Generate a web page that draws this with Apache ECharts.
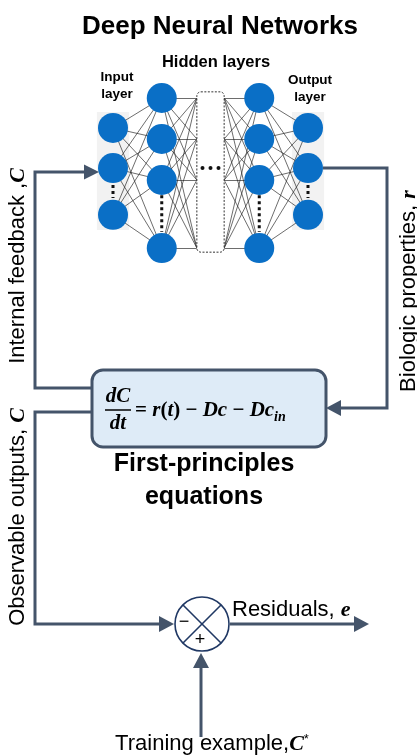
<!DOCTYPE html>
<html>
<head>
<meta charset="utf-8">
<script src="https://cdn.jsdelivr.net/npm/echarts@6/dist/echarts.min.js"></script>
<style>
html,body{margin:0;padding:0;background:#fff;}
#main{width:417px;height:756px;}
</style>
</head>
<body>
<div id="main"></div>
<script>
// ---- Data (diagram structure) ----
const layerNames = ['Input layer', 'Hidden layer 1', 'Hidden layers …', 'Hidden layer n', 'Output layer'];
const inputRows = [0.73, 1.71, 2.85];
const hiddenFirstRows = [0, 1, 2, 3.66];
const hiddenLastRows = [0, 1, 2, 3.66];
const outputRows = [0.73, 1.71, 2.85];
const middleLayer = 2;
const labels = {
  title: 'Deep Neural Networks',
  hidden: 'Hidden layers',
  input: 'Input\nlayer',
  output: 'Output\nlayer',
  feedback: 'Internal feedback ,',
  observable: 'Observable outputs, ',
  biologic: 'Biologic properties, ',
  residuals: 'Residuals, ',
  training: 'Training example,',
  principles: 'First-principles\nequations'
};

// ---- build series data ----
const layersRows = [inputRows, hiddenFirstRows, null, hiddenLastRows, outputRows];
const neurons = [];
layersRows.forEach((rows, li) => { if (rows) rows.forEach(r => neurons.push([li, r])); });

const boxHalf = 0.28;
const boxTop = -0.15, boxBottom = 3.76;
const links = [];
function connect(aLayer, aRows, bLayer, bRows, aX, bX) {
  aRows.forEach(ra => bRows.forEach(rb => {
    links.push({ coords: [[aX !== undefined ? aX : aLayer, ra], [bX !== undefined ? bX : bLayer, rb]] });
  }));
}
connect(0, inputRows, 1, hiddenFirstRows);
connect(1, hiddenFirstRows, middleLayer, hiddenFirstRows, undefined, middleLayer - boxHalf);
connect(middleLayer, hiddenLastRows, 3, hiddenLastRows, middleLayer + boxHalf, undefined);
connect(3, hiddenLastRows, 4, outputRows);

// background panels for input/output layers
const panels = [0, 4].map(li => {
  const rows = layersRows[li];
  return [li - 0.33, Math.min(...rows) - 0.39, li + 0.33, Math.max(...rows) + 0.37];
});
// dotted "more neurons" separators
const dotsSep = [
  [0, 2.12, 2.44], [4, 2.12, 2.44],
  [1, 2.37, 3.27], [3, 2.37, 3.27]
];

const chart = echarts.init(document.getElementById('main'), null, { renderer: 'canvas' });

const LINE = '#44546A';
const SANS = '"Liberation Sans", Arial, sans-serif';
const SERIF = '"Liberation Serif", "Times New Roman", serif';
const mathStyle = { fontFamily: SERIF, fontStyle: 'italic', fontWeight: 'bold', fontSize: 22, fill: '#000' };
const textStyle = { fontFamily: SANS, fontSize: 22, fill: '#000' };

function arrowHead(tx, ty, dir, len, half) {
  let pts;
  if (dir === 'r') pts = [[tx, ty], [tx - len, ty - half], [tx - len, ty + half]];
  else if (dir === 'l') pts = [[tx, ty], [tx + len, ty - half], [tx + len, ty + half]];
  else pts = [[tx, ty], [tx - half, ty + len], [tx + half, ty + len]];
  return { type: 'polygon', shape: { points: pts }, style: { fill: LINE }, z: 20 };
}
function poly(points) {
  return { type: 'polyline', shape: { points: points }, style: { stroke: LINE, lineWidth: 3, fill: null, lineJoin: 'miter' }, z: 20 };
}

const graphics = [
  { type: 'text', x: 220, y: 27, style: { text: labels.title, font: 'bold 26px ' + SANS, fill: '#000', align: 'center', verticalAlign: 'middle' }, z: 30 },
  { type: 'text', x: 216, y: 62, style: { text: labels.hidden, font: 'bold 16.5px ' + SANS, fill: '#000', align: 'center', verticalAlign: 'middle' }, z: 30 },
  { type: 'text', x: 117, y: 86, style: { text: labels.input, font: 'bold 13.5px ' + SANS, lineHeight: 17, fill: '#000', align: 'center', verticalAlign: 'middle' }, z: 30 },
  { type: 'text', x: 310, y: 89, style: { text: labels.output, font: 'bold 13.5px ' + SANS, lineHeight: 17, fill: '#000', align: 'center', verticalAlign: 'middle' }, z: 30 },

  poly([[92, 388], [35, 388], [35, 172], [85, 172]]),
  arrowHead(99, 172, 'r', 15, 7.5),
  poly([[92, 412], [35, 412], [35, 624], [160, 624]]),
  arrowHead(174, 624, 'r', 15, 8),
  poly([[323, 168], [387, 168], [387, 408], [340, 408]]),
  arrowHead(326, 408, 'l', 15, 8),
  poly([[230, 624], [355, 624]]),
  arrowHead(369, 624, 'r', 15, 8),
  { type: 'polyline', shape: { points: [[201, 737], [201, 667]] }, style: { stroke: LINE, lineWidth: 3, fill: null }, z: 20 },
  arrowHead(201, 653, 'u', 15, 8),

  { type: 'rect', shape: { x: 92, y: 370, width: 234, height: 77, r: 11 }, style: { fill: '#DEEBF7', stroke: LINE, lineWidth: 3 }, z: 21 },
  { type: 'text', x: 118, y: 397, style: { text: 'dC', font: 'italic bold 21px ' + SERIF, fill: '#000', align: 'center', verticalAlign: 'middle' }, z: 22 },
  { type: 'line', shape: { x1: 105, y1: 410, x2: 131, y2: 410 }, style: { stroke: '#000', lineWidth: 1.5 }, z: 22 },
  { type: 'text', x: 118, y: 424, style: { text: 'dt', font: 'italic bold 21px ' + SERIF, fill: '#000', align: 'center', verticalAlign: 'middle' }, z: 22 },
  { type: 'text', x: 135, y: 411, style: {
      text: '{o|= }{i|r}{o|(}{i|t}{o|) − }{i|Dc}{o| − }{i|Dc}{s|in}',
      align: 'left', verticalAlign: 'middle',
      rich: {
        o: { fontFamily: SERIF, fontWeight: 'bold', fontSize: 21, lineHeight: 26, fill: '#000' },
        i: { fontFamily: SERIF, fontWeight: 'bold', fontStyle: 'italic', fontSize: 21, lineHeight: 26, fill: '#000' },
        s: { fontFamily: SERIF, fontWeight: 'bold', fontStyle: 'italic', fontSize: 14, lineHeight: 14, verticalAlign: 'bottom', fill: '#000' }
      } }, z: 22 },
  { type: 'text', x: 204, y: 481, style: { text: labels.principles, font: 'bold 25px ' + SANS, lineHeight: 33, fill: '#000', align: 'center', verticalAlign: 'middle' }, z: 30 },

  { type: 'text', x: 18, y: 266, rotation: Math.PI / 2, style: {
      text: '{t|' + labels.feedback + '}{m|C}', align: 'center', verticalAlign: 'middle',
      rich: { t: textStyle, m: mathStyle } }, z: 30 },
  { type: 'text', x: 18, y: 517, rotation: Math.PI / 2, style: {
      text: '{t|' + labels.observable + '}{m|C}', align: 'center', verticalAlign: 'middle',
      rich: { t: textStyle, m: mathStyle } }, z: 30 },
  { type: 'text', x: 409, y: 291, rotation: Math.PI / 2, style: {
      text: '{t|' + labels.biologic + '}{m|r}', align: 'center', verticalAlign: 'middle',
      rich: { t: textStyle, m: mathStyle } }, z: 30 },

  { type: 'circle', shape: { cx: 202, cy: 624, r: 27 }, style: { fill: '#fff', stroke: '#203864', lineWidth: 1.6 }, z: 22 },
  { type: 'line', shape: { x1: 183, y1: 605, x2: 221, y2: 643 }, style: { stroke: '#203864', lineWidth: 1.6 }, z: 23 },
  { type: 'line', shape: { x1: 221, y1: 605, x2: 183, y2: 643 }, style: { stroke: '#203864', lineWidth: 1.6 }, z: 23 },
  { type: 'text', x: 184, y: 622, style: { text: '−', font: '18px ' + SANS, fill: '#000', align: 'center', verticalAlign: 'middle' }, z: 24 },
  { type: 'text', x: 200, y: 640, style: { text: '+', font: '18px ' + SANS, fill: '#000', align: 'center', verticalAlign: 'middle' }, z: 24 },

  { type: 'text', x: 232, y: 610, style: {
      text: '{t|' + labels.residuals + '}{m|e}', align: 'left', verticalAlign: 'middle',
      rich: { t: textStyle, m: mathStyle } }, z: 30 },
  { type: 'text', x: 212, y: 744, style: {
      text: '{t|' + labels.training + '}{m|C}{sup|*}', align: 'center', verticalAlign: 'middle',
      rich: { t: textStyle, m: mathStyle, sup: { fontFamily: SANS, fontSize: 13, verticalAlign: 'top', fill: '#000' } } }, z: 30 }
];

const option = {
  animation: false,
  backgroundColor: '#fff',
  grid: { left: 88.625, width: 243.75, top: 57, height: 246 },
  xAxis: { type: 'value', min: -0.5, max: 4.5, show: false },
  yAxis: { type: 'value', min: -1, max: 5, inverse: true, show: false },
  series: [
    {
      type: 'custom', z: 1, silent: true,
      data: panels,
      renderItem: function (params, api) {
        const p1 = api.coord([api.value(0), api.value(1)]);
        const p2 = api.coord([api.value(2), api.value(3)]);
        return { type: 'rect', shape: { x: p1[0], y: p1[1], width: p2[0] - p1[0], height: p2[1] - p1[1] }, style: { fill: '#F2F2F2' } };
      }
    },
    {
      type: 'lines', coordinateSystem: 'cartesian2d', z: 2, silent: true,
      data: links,
      lineStyle: { color: '#222', width: 0.7, opacity: 0.95 }
    },
    {
      type: 'custom', z: 3, silent: true,
      data: [[middleLayer - boxHalf, boxTop, middleLayer + boxHalf, boxBottom]],
      renderItem: function (params, api) {
        const p1 = api.coord([api.value(0), api.value(1)]);
        const p2 = api.coord([api.value(2), api.value(3)]);
        const cx = (p1[0] + p2[0]) / 2;
        const cy = api.coord([middleLayer, hiddenFirstRows[1] + 0.71])[1];
        return { type: 'group', children: [
          { type: 'rect', shape: { x: p1[0], y: p1[1], width: p2[0] - p1[0], height: p2[1] - p1[1], r: 4 }, style: { fill: '#fff', stroke: '#333', lineWidth: 1, lineDash: [2, 1.5] } },
          { type: 'circle', shape: { cx: cx - 8, cy: cy, r: 2 }, style: { fill: '#111' } },
          { type: 'circle', shape: { cx: cx, cy: cy, r: 2 }, style: { fill: '#111' } },
          { type: 'circle', shape: { cx: cx + 8, cy: cy, r: 2 }, style: { fill: '#111' } }
        ] };
      }
    },
    {
      type: 'scatter', z: 4, silent: true,
      data: neurons,
      symbol: 'circle', symbolSize: 30,
      itemStyle: { color: '#0A6FC6', opacity: 1 }
    },
    {
      type: 'custom', z: 5, silent: true,
      data: dotsSep,
      renderItem: function (params, api) {
        const p1 = api.coord([api.value(0), api.value(1)]);
        const p2 = api.coord([api.value(0), api.value(2)]);
        return { type: 'line', shape: { x1: p1[0], y1: p1[1], x2: p2[0], y2: p2[1] }, style: { stroke: '#111', lineWidth: 3, lineDash: [3, 3] } };
      }
    }
  ],
  graphic: graphics
};
chart.setOption(option);
</script>
</body>
</html>
